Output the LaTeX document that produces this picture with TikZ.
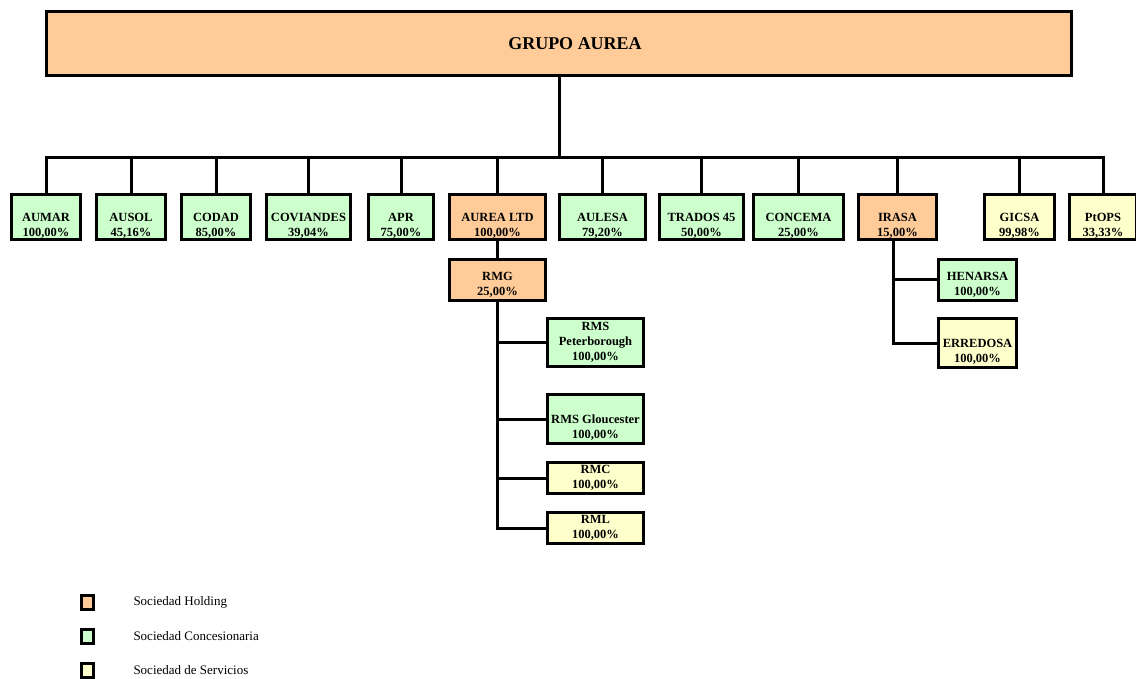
\documentclass[tikz,border=0pt]{standalone}
\usepackage{fontspec}
\setmainfont{Liberation Serif}
\usetikzlibrary{positioning}
\definecolor{holding}{HTML}{FFCC99}
\definecolor{concesion}{HTML}{CCFFCC}
\definecolor{servicio}{HTML}{FFFFCC}

\begin{document}
\begin{tikzpicture}[x=1pt,y=-1pt,line width=3pt]
\tikzset{
    soc/.style={%
        draw, rectangle,
        inner sep=0pt,
        minimum height=45
        },
    hold/.style={soc, fill=holding},
    conc/.style={soc, fill=concesion},
    serv/.style={soc, fill=servicio},
    lab/.style={%
        font=\fontsize{12.5}{15}\selectfont\bfseries,
        align=center, inner sep=0pt
        },
    ley/.style={%
        draw, rectangle, inner sep=0pt,
        minimum width=12, minimum height=14
        },
    leytxt/.style={font=\fontsize{13}{15}\selectfont, inner sep=0pt},
}
\useasboundingbox (0,0) rectangle (1136,679);
%%%GRUPO
\node[hold, minimum width=1025, minimum height=64,
  label={[font=\fontsize{18}{20}\selectfont\bfseries, xshift=16pt]center:GRUPO AUREA}] (grupo) at (559,43.5) {};
%%%PRIMER NIVEL
\node[conc, minimum width=69, label={[lab,yshift=-9pt]center:AUMAR\\100,00\%}] (aumar) at (46,217) {};
\node[conc, minimum width=69, label={[lab,yshift=-9pt]center:AUSOL\\45,16\%}] (ausol) at (131,217) {};
\node[conc, minimum width=69, label={[lab,yshift=-9pt]center:CODAD\\85,00\%}] (codad) at (216,217) {};
\node[conc, minimum width=84, label={[lab,yshift=-9pt]center:COVIANDES\\39,04\%}] (coviandes) at (308.5,217) {};
\node[conc, minimum width=65, label={[lab,yshift=-9pt]center:APR\\75,00\%}] (apr) at (401,217) {};
\node[hold, minimum width=96, label={[lab,yshift=-9pt]center:AUREA LTD\\100,00\%}] (aurealtd) at (497.5,217) {};
\node[conc, minimum width=86, label={[lab,yshift=-9pt]center:AULESA\\79,20\%}] (aulesa) at (602.5,217) {};
\node[conc, minimum width=84, label={[lab,yshift=-9pt]center:TRADOS 45\\50,00\%}] (trados) at (701.5,217) {};
\node[conc, minimum width=90, label={[lab,yshift=-9pt]center:CONCEMA\\25,00\%}] (concema) at (798.5,217) {};
\node[hold, minimum width=78, label={[lab,yshift=-9pt]center:IRASA\\15,00\%}] (irasa) at (897.5,217) {};
\node[serv, minimum width=70, label={[lab,yshift=-9pt]center:GICSA\\99,98\%}] (gicsa) at (1019.5,217) {};
\node[serv, minimum width=67, label={[lab,yshift=-9pt]center:PtOPS\\33,33\%}] (ptops) at (1103,217) {};
%%%RMG
\node[hold, minimum width=96, minimum height=41, label={[lab,yshift=-5pt]center:RMG\\25,00\%}] (rmg) at (497.5,280) {};
\node[conc, minimum width=96, minimum height=48, label={[lab]center:RMS\\Peterborough\\100,00\%}] (rmsp) at (595.5,342.5) {};
\node[conc, minimum width=96, minimum height=49, label={[lab,yshift=-9pt]center:RMS Gloucester\\100,00\%}] (rmsg) at (595.5,419) {};
\node[serv, minimum width=96, minimum height=31, label={[lab]center:RMC\\100,00\%}] (rmc) at (595.5,478) {};
\node[serv, minimum width=96, minimum height=31, label={[lab]center:RML\\100,00\%}] (rml) at (595.5,528) {};
%%%IRASA
\node[conc, minimum width=78, minimum height=41, label={[lab,yshift=-5pt]center:HENARSA\\100,00\%}] (henarsa) at (977.5,280) {};
\node[serv, minimum width=78, minimum height=49, label={[lab,yshift=-9pt]center:ERREDOSA\\100,00\%}] (erredosa) at (977.5,343) {};
%%%CONEXIONES
\coordinate (bus) at (559,158);
\draw (grupo.south) -- (bus);
\draw (aumar.north) |- (bus -| ptops.north) -- (ptops.north);
\foreach \c in {ausol,codad,coviandes,apr,aurealtd,aulesa,trados,concema,irasa,gicsa}
  \draw (\c.north) -- (\c.north |- bus);
\draw (aurealtd.south) -- (rmg.north);
\draw (rmg.south) |- (rml.west);
\foreach \c in {rmsp,rmsg,rmc}
  \draw (rmg.south |- \c.west) -- (\c.west);
\draw ([xshift=-4pt]irasa.south) |- (erredosa.west);
\draw ([xshift=-4pt]irasa.south |- henarsa.west) -- (henarsa.west);
%%%LEYENDA
\node[ley, fill=holding] (lhold) at (87.5,602) {};
\node[ley, fill=concesion] (lconc) at (87.5,636.5) {};
\node[ley, fill=servicio] (lserv) at (87.5,670) {};
\node[leytxt, right=37pt of lhold] (lhold-t) {Sociedad Holding};
\node[leytxt, right=37pt of lconc] (lconc-t) {Sociedad Concesionaria};
\node[leytxt, right=37pt of lserv] (lserv-t) {Sociedad de Servicios};
\end{tikzpicture}
\end{document}
